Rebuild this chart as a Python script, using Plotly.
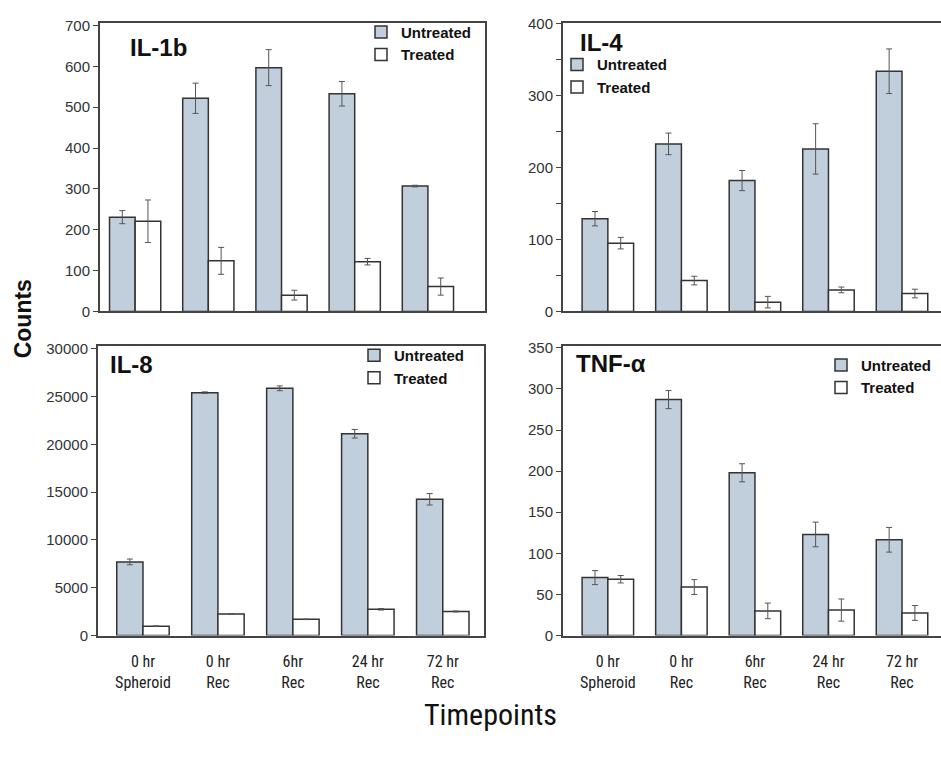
import plotly.graph_objects as go

# ---------------- data ----------------
timepoints = ["0 hr<br>Spheroid", "0 hr<br>Rec", "6hr<br>Rec", "24 hr<br>Rec", "72 hr<br>Rec"]
series_names = ["Untreated", "Treated"]

il1b_untreated = [231, 522, 597, 533, 307]
il1b_untreated_err = [16, 37, 44, 30, 2]
il1b_treated = [221, 124, 40, 122, 61]
il1b_treated_err = [52, 33, 12, 8, 21]

il4_untreated = [129, 233, 182, 226, 334]
il4_untreated_err = [10, 15, 14, 35, 31]
il4_treated = [95, 43, 13, 30, 25]
il4_treated_err = [8, 6, 8, 4, 6]

il8_untreated = [7700, 25400, 25850, 21100, 14250]
il8_untreated_err = [300, 80, 250, 450, 600]
il8_treated = [980, 2250, 1700, 2750, 2520]
il8_treated_err = [40, 40, 30, 80, 50]

tnf_untreated = [70.5, 287, 198, 123, 116.5]
tnf_untreated_err = [8.5, 11, 11, 15, 15]
tnf_treated = [68.5, 59, 30, 31, 27.5]
tnf_treated_err = [4.5, 9, 9.5, 13.5, 9]

panel_titles = ["IL-1b", "IL-4", "IL-8", "TNF-α"]
y_tick_steps = [100, 100, 5000, 50]
y_maxima = [707, 401.5, 30300, 352.5]

# ---------------- styling ----------------
W, H = 941, 763
FILL_U = "#c1cfdc"
FILL_T = "#ffffff"
EDGE = "#333333"
AXIS = "#444444"
NUM_FONT = "Liberation Sans, Arial, sans-serif"
NARROW = "Liberation Sans Narrow, Arial Narrow, Roboto Condensed, sans-serif"


def fx(px):
    return px / W


def fy(py):
    return 1 - py / H


# panel boxes in pixels: (left, right, top, bottom)
boxes = [(100, 485, 15, 310), (563, 941, 15, 310), (98, 484, 345, 641), (563, 941, 345, 641)]
x_ranges = [[-0.48, 4.78], [-0.61, 4.53], [-0.6, 4.55], [-0.61, 4.53]]
legend_pos = [(361, 8), (557, 41), (354, 338), (821, 348)]
title_pos = [(128, 40), (578, 35), (108, 364), (574, 363)]

data = [
    (il1b_untreated, il1b_untreated_err, il1b_treated, il1b_treated_err),
    (il4_untreated, il4_untreated_err, il4_treated, il4_treated_err),
    (il8_untreated, il8_untreated_err, il8_treated, il8_treated_err),
    (tnf_untreated, tnf_untreated_err, tnf_treated, tnf_treated_err),
]

fig = go.Figure()
layout = dict(
    width=W, height=H,
    margin=dict(l=0, r=0, t=0, b=0),
    paper_bgcolor="white", plot_bgcolor="white",
    barmode="group", bargap=0.3, bargroupgap=0,
    font=dict(family=NUM_FONT, color="#222"),
    annotations=[],
)

for i, (u, ue, t, te) in enumerate(data):
    n = i + 1
    xa = "x" if n == 1 else f"x{n}"
    ya = "y" if n == 1 else f"y{n}"
    lg = "legend" if n == 1 else f"legend{n}"
    for name, vals, errs, fill in ((series_names[0], u, ue, FILL_U), (series_names[1], t, te, FILL_T)):
        fig.add_trace(go.Bar(
            x=timepoints, y=vals, name=name,
            xaxis=xa, yaxis=ya, legend=lg,
            marker=dict(color=fill, line=dict(color=EDGE, width=1.5)),
            error_y=dict(type="data", array=errs, visible=True, color="#555555", thickness=1, width=3),
        ))
    l, r, tp, bt = boxes[i]
    bottom_row = i >= 2
    left_col = i % 2 == 0
    layout["xaxis" if n == 1 else f"xaxis{n}"] = dict(
        domain=[fx(l), fx(r)], anchor=ya, range=x_ranges[i],
        type="category", showline=True, linecolor=AXIS, linewidth=2, mirror=True,
        ticks="", showgrid=False, zeroline=False,
        showticklabels=bottom_row, ticklabelstandoff=10,
        tickfont=dict(family=NARROW, size=16, color="#222"),
    )
    yax = dict(
        domain=[fy(bt), fy(tp)], anchor=xa, range=[0, y_maxima[i]],
        tickmode="linear", tick0=0, dtick=y_tick_steps[i], tickformat="d",
        showline=True, linecolor=AXIS, linewidth=2, mirror=left_col,
        ticks="outside", ticklen=5, tickcolor=AXIS, tickwidth=1,
        showgrid=False, zeroline=False,
        tickfont=dict(family=NUM_FONT, size=15, color="#333"),
    )
    if n == 2:
        yax["minor"] = dict(dtick=50, ticks="outside", ticklen=5, tickcolor=AXIS)
    layout["yaxis" if n == 1 else f"yaxis{n}"] = yax

    lx, ly = legend_pos[i]
    layout[lg] = dict(
        x=fx(lx), y=fy(ly), xanchor="left", yanchor="top",
        bgcolor="rgba(0,0,0,0)", borderwidth=0, tracegroupgap=0,
        font=dict(family=NUM_FONT, size=15, color="#111", weight="bold"),
    )
    tx, ty = title_pos[i]
    layout["annotations"].append(dict(
        text=f"<b>{panel_titles[i]}</b>", x=fx(tx), y=fy(ty), xref="paper", yref="paper",
        xanchor="left", yanchor="middle", showarrow=False,
        font=dict(family=NUM_FONT, size=24, color="#111"),
    ))

layout["annotations"].append(dict(
    text="<b>Counts</b>", x=fx(23), y=fy(318), xref="paper", yref="paper",
    xanchor="center", yanchor="middle", showarrow=False, textangle=-90,
    font=dict(family=NUM_FONT, size=23, color="#111"),
))
layout["annotations"].append(dict(
    text="Timepoints", x=fx(490), y=fy(722), xref="paper", yref="paper",
    xanchor="center", yanchor="middle", showarrow=False,
    font=dict(family=NARROW, size=30, color="#111"),
))

fig.update_layout(**layout)
fig.write_html("out.html")
